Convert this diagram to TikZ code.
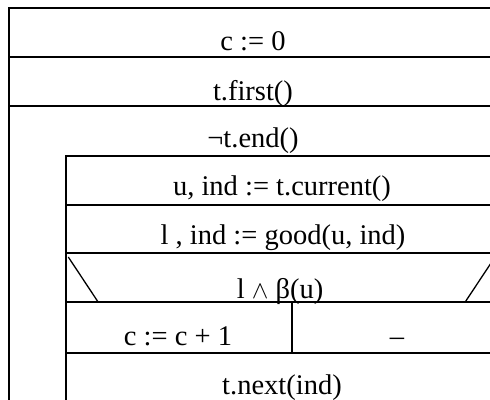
\documentclass[tikz,border=0pt]{standalone}
\usepackage{fontspec}
\setmainfont{Liberation Serif}
\begin{document}
\begin{tikzpicture}[x=1pt,y=-1pt,
  ln/.style={line width=2pt},
  dg/.style={line width=1.3pt},
  lbl/.style={anchor=base,inner sep=0pt,font=\fontsize{28.5}{32}\selectfont}]
\useasboundingbox (0,0) rectangle (490,399);
\clip (0,0) rectangle (490,399);
% outer frame
\coordinate (oTL) at (9,8.3);
\coordinate (oTR) at (505,8.3);
\coordinate (oBL) at (9,410);
\draw[ln] (oBL) -- (oTL) -- (oTR);
\coordinate (h1L) at (9,57); \coordinate (h1R) at (505,57);
\coordinate (h2L) at (9,106); \coordinate (h2R) at (505,106);
\draw[ln] (h1L) -- (h1R);
\draw[ln] (h2L) -- (h2R);
% inner loop body
\coordinate (iTL) at (66,155.7); \coordinate (iTR) at (505,155.7);
\coordinate (iBL) at (66,410);
\draw[ln] (iBL) -- (iTL) -- (iTR);
\coordinate (h3L) at (66,205); \coordinate (h3R) at (505,205);
\coordinate (h4L) at (66,252.7); \coordinate (h4R) at (505,252.7);
\coordinate (h5L) at (66,302.3); \coordinate (h5R) at (505,302.3);
\coordinate (h6L) at (66,352.7); \coordinate (h6R) at (505,352.7);
\draw[ln] (h3L) -- (h3R);
\draw[ln] (h4L) -- (h4R);
\draw[ln] (h5L) -- (h5R);
\draw[ln] (h6L) -- (h6R);
% branch divider
\coordinate (vT) at (292,302.3); \coordinate (vB) at (292,352.7);
\draw[ln] (vT) -- (vB);
% condition diagonals
\coordinate (dlT) at (68.3,257); \coordinate (dlB) at (98.3,302.3);
\coordinate (drT) at (495,257); \coordinate (drB) at (465,302.3);
\draw[dg] (dlT) -- (dlB);
\draw[dg] (drT) -- (drB);
% texts
\node[lbl] (t1) at (253,50) {c := 0};
\node[lbl] (t2) at (253,100) {t.first()};
\node[lbl] (t3) at (253,147) {¬t.end()};
\node[lbl] (t4) at (282,195) {u, ind := t.current()};
\node[lbl] (t5) at (283,244) {l , ind := good(u, ind)};
\node[lbl] (t6) at (280,298) {l $\land$ β(u)};
\node[lbl] (t7) at (178,345) {c := c + 1};
\node[lbl] (t8) at (397,345) {–};
\node[lbl] (t9) at (282,394) {t.next(ind)};
\end{tikzpicture}
\end{document}
